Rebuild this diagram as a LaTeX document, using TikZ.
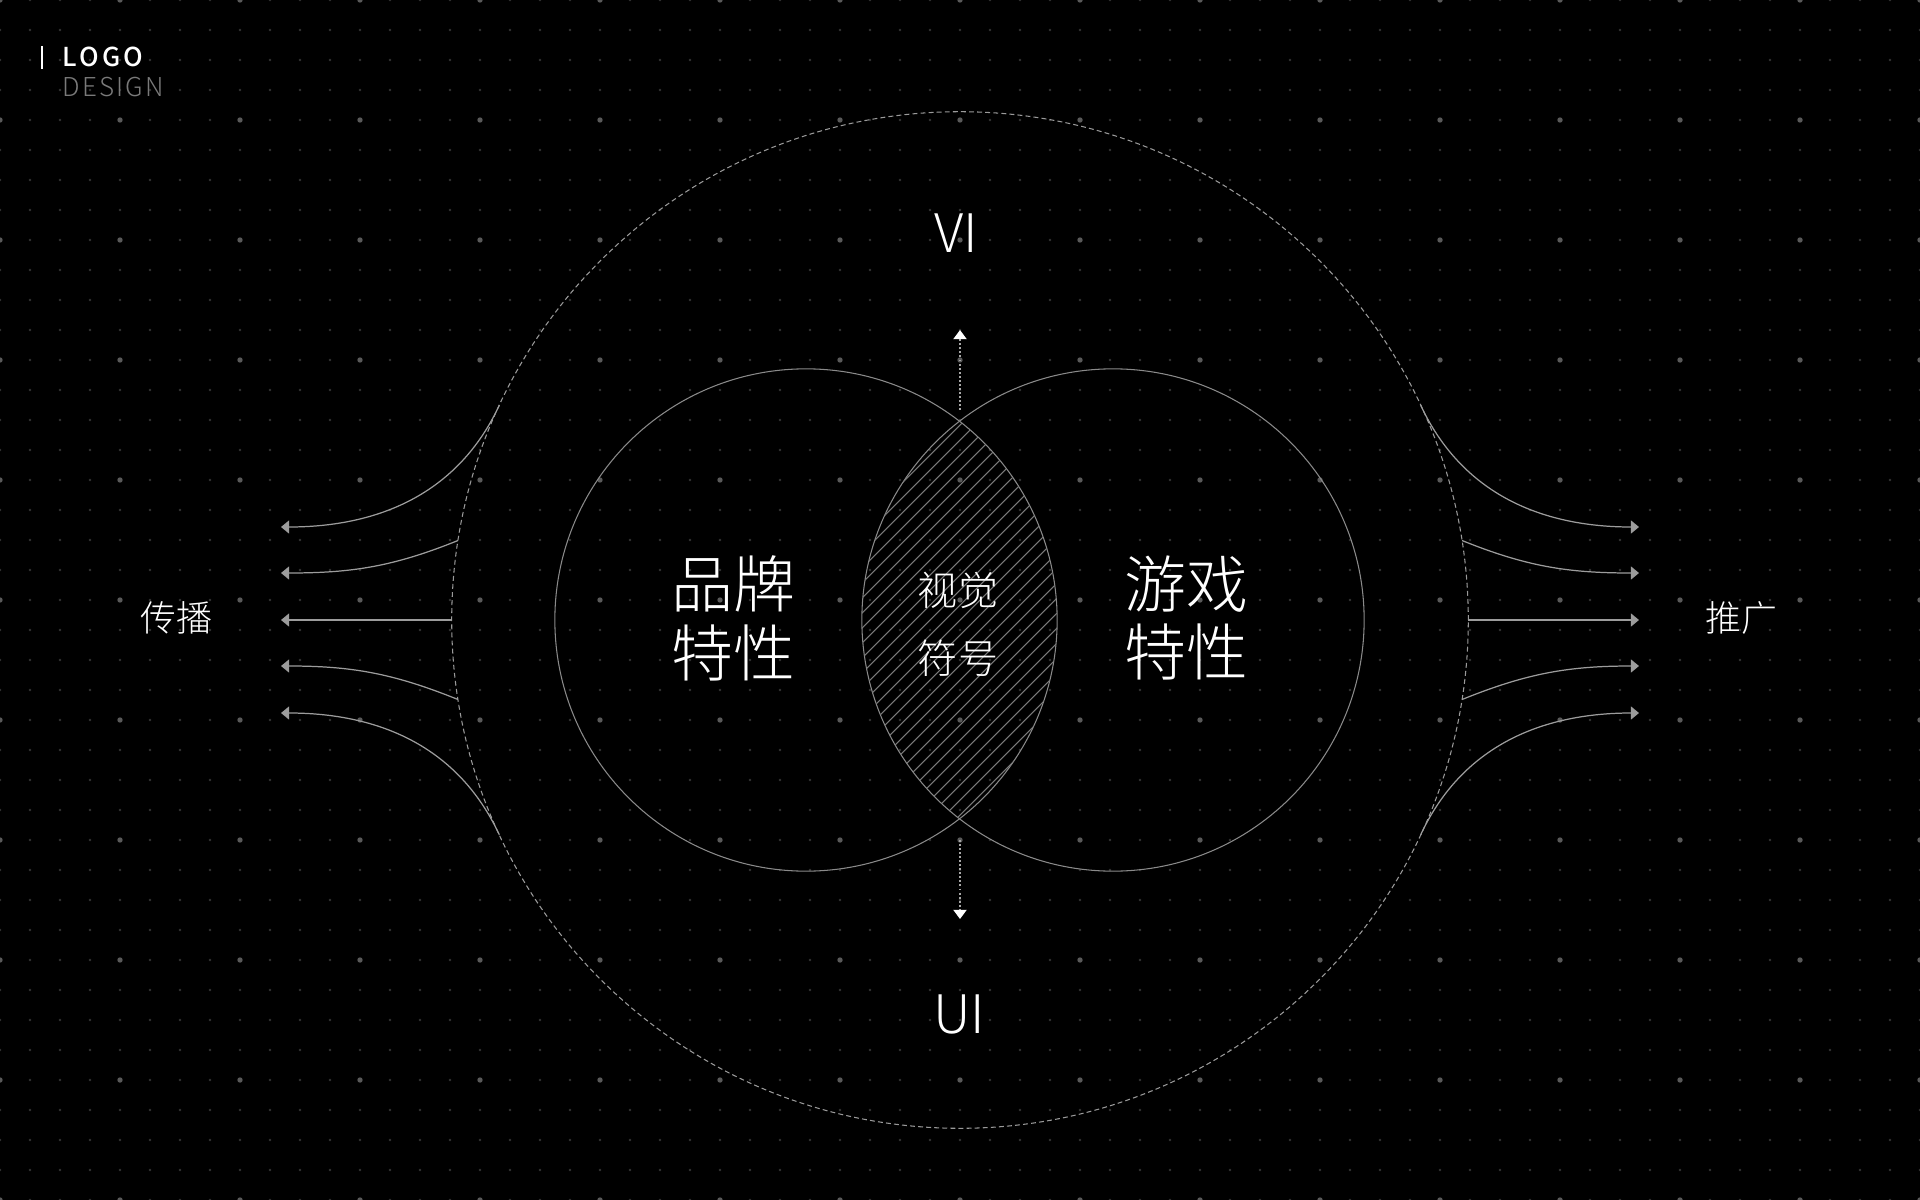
\documentclass[tikz,border=0pt]{standalone}
\usepackage{fontspec}
\setmainfont{Noto Sans CJK SC}[UprightFont=* Light]
\newfontfamily\logofont{Noto Sans CJK SC}[UprightFont=* Medium, LetterSpace=12]
\newfontfamily\designfont{Noto Sans CJK SC}[UprightFont=* Light, LetterSpace=8]
\usetikzlibrary{arrows.meta}

\definecolor{dotc}{HTML}{333333}
\definecolor{dotbig}{HTML}{595959}
\definecolor{ringc}{HTML}{8A8A8A}
\definecolor{haloc}{HTML}{9A9A9A}
\definecolor{flowc}{HTML}{9C9C9C}
\definecolor{hatchc}{HTML}{7A7A7A}
\definecolor{probec}{HTML}{A8A8A8}
\definecolor{greytext}{HTML}{7A7A7A}

\begin{document}
\begin{tikzpicture}[
  x=0.01cm, y=-0.01cm,
  ring/.style={
    draw=ringc, line width=0.3pt, circle,
    minimum size=5.02cm, inner sep=0pt, outer sep=0pt,
  },
  halo/.style={
    draw=haloc, line width=0.3pt, dash pattern=on 1.4pt off 0.9pt,
    circle, minimum size=10.16cm, inner sep=0pt, outer sep=0pt,
  },
  flow/.style={-{Triangle[length=2.3pt,width=3.7pt]}, line width=0.35pt, color=flowc},
  probe/.style={-{Triangle[length=2.6pt,width=3.7pt,color=white]}, line width=0.55pt,
    color=probec, dash pattern=on 0.55pt off 0.6pt},
  big/.style={text=white, align=center, inner sep=0pt, font=\fontsize{17.6}{19.6}\selectfont},
  mid/.style={text=white, align=center, inner sep=0pt, font=\fontsize{11.4}{19.3}\selectfont},
  side/.style={text=white, inner sep=0pt, font=\fontsize{10.2}{12}\selectfont},
  axis/.style={text=white, inner sep=0pt, font=\fontsize{15.1}{16}\selectfont},
]

% background and dot grid
\fill[black] (0,0) rectangle (1920,1200);
\useasboundingbox (0,0) rectangle (1920,1200);
\foreach \i in {0,...,64}
  \foreach \j in {0,...,40}
    \fill[dotc] (\i*30,\j*30) circle [radius=1.3];
\foreach \i in {0,...,16}
  \foreach \j in {0,...,10}
    \fill[dotbig] (\i*120,\j*120) circle [radius=2.7];

% logo
\draw[white, line width=0.6pt] (42,46) -- (42,69);
\node[anchor=base west, inner sep=0pt, text=white, font=\logofont\fontsize{7.4}{8}\selectfont] (logo) at (62,67) {LOGO};
\node[anchor=base west, inner sep=0pt, text=greytext, font=\designfont\fontsize{7.4}{8}\selectfont] (design) at (62,97) {DESIGN};

% circles
\node[halo] (halo) at (960,620) {};
\node[ring] (brand) at (806,620) {};
\node[ring] (game) at (1113,620) {};

% overlap
\begin{scope}
  \clip (806,620) circle [radius=251];
  \clip (1113,620) circle [radius=251];
  \foreach \k in {-24,...,24}
    \draw[hatchc, line width=0.3pt] (960+\k*15-250,870) -- ++(500,-500);
\end{scope}

% texts
\node[axis] (vi) at (956,233) {VI};
\node[axis] (ui) at (959,1014) {UI};
\node[big] (brandtxt) at (733,618) {品牌\\特性};
\node[big] (gametxt) at (1186,618) {游戏\\特性};
\node[mid] (sign) at (958,624) {视觉\\符号};
\node[side] (spread) at (176,618) {传播};
\node[side] (promo) at (1741,618) {推广};

% vertical arrows
\coordinate (lensN) at (960,410);
\coordinate (viN) at (960,330);
\coordinate (lensS) at (960,840);
\coordinate (uiS) at (960,919);
\draw[probe] (lensN) -- (viN);
\draw[probe] (lensS) -- (uiS);

% side arrows
\foreach \k/\y in {1/527,2/573,3/620,4/666,5/713} {
  \coordinate (w\k) at (281,\y);
  \coordinate (e\k) at (1639,\y);
}
\foreach \a/\o/\k in {155/245/1,171/202/2,180/180/3,189/158/4,205/115/5}
  \draw[flow] (halo.\a) to[out=\o,in=0] (w\k);
\foreach \a/\o/\k in {25/295/1,9/338/2,0/0/3,-9/22/4,-25/65/5}
  \draw[flow] (halo.\a) to[out=\o,in=180] (e\k);

\end{tikzpicture}
\end{document}
